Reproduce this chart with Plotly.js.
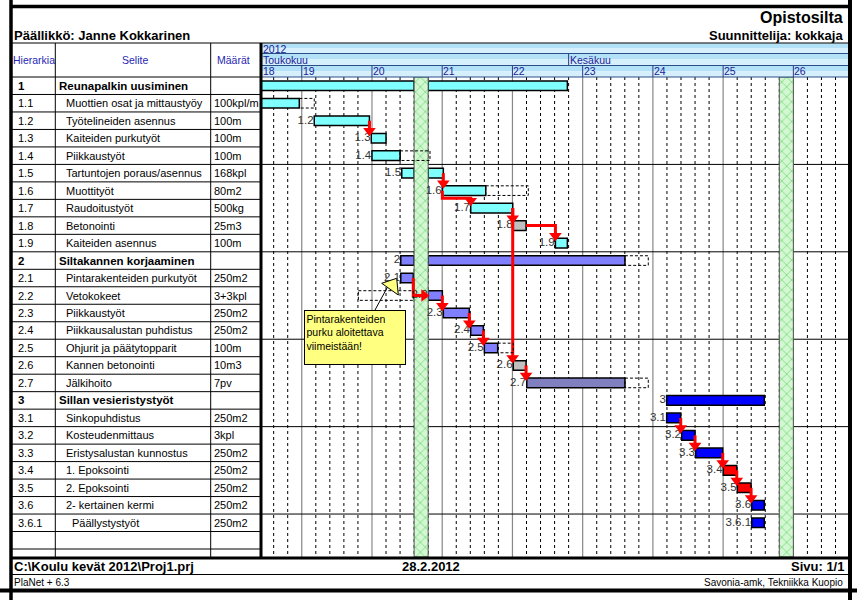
<!DOCTYPE html>
<html><head><meta charset="utf-8">
<script src="https://cdn.plot.ly/plotly-3.0.1.min.js"></script>
<style>html,body{margin:0;padding:0;background:#fff}#chart{width:857px;height:600px}</style>
</head><body><div id="chart"></div>
<script>
// ===== DATA =====
const projectTitle = 'Opistosilta';
const designer = 'Suunnittelija: kokkaja';
const manager = 'Päällikkö: Janne Kokkarinen';
const colHeaders = ['Hierarkia', 'Selite', 'Määrät'];
const footerFile = 'C:\\Koulu kevät 2012\\Proj1.prj';
const footerDate = '28.2.2012';
const footerPage = 'Sivu: 1/1';
const footerApp = 'PlaNet + 6.3';
const footerOrg = 'Savonia-amk, Tekniikka Kuopio';

const taskIds = ['1','1.1','1.2','1.3','1.4','1.5','1.6','1.7','1.8','1.9','2','2.1','2.2','2.3','2.4','2.5','2.6','2.7','3','3.1','3.2','3.3','3.4','3.5','3.6','3.6.1'];
const taskNames = ['Reunapalkin uusiminen','Muottien osat ja mittaustyöy','Työtelineiden asennus','Kaiteiden purkutyöt','Piikkaustyöt','Tartuntojen poraus/asennus','Muottityöt','Raudoitustyöt','Betonointi','Kaiteiden asennus','Siltakannen korjaaminen','Pintarakenteiden purkutyöt','Vetokokeet','Piikkaustyöt','Piikkausalustan puhdistus','Ohjurit ja päätytopparit','Kannen betonointi','Jälkihoito','Sillan vesieristystyöt','Sinkopuhdistus','Kosteudenmittaus','Eristysalustan kunnostus','1. Epoksointi','2. Epoksointi','2- kertainen kermi','Päällystystyöt'];
const taskQty = ['','100kpl/m','100m','100m','100m','168kpl','80m2','500kg','25m3','100m','','250m2','3+3kpl','250m2','250m2','100m','10m3','7pv','','250m2','3kpl','250m2','250m2','250m2','250m2','250m2'];
// working days counted from Monday of week 18 / 2012 (day 0)
const taskStart = [2.0,2.0,5.89,9.95,10.0,12.12,15.01,17.03,20.06,23.06,12.05,12.05,14.01,15.08,17.03,18.0,20.06,21.02,30.98,30.98,32.05,33.05,35.01,36.01,37.04,37.04];
const taskEnd   = [23.91,4.83,9.82,11.0,12.0,15.08,18.1,20.02,20.97,23.91,28.01,12.94,15.01,16.93,17.93,18.95,20.97,28.01,37.93,31.98,33.0,34.97,35.97,36.99,37.93,37.93];
const taskGroup = ['sum1','t1','t1','t1','t1','t1','t1','t1','conc','t1','sum2','t2','t2','t2','t2','t2','conc','cure','t3','t3','t3','t3','crit','crit','t3','t3'];

const floatTask = ['1.1','1.4','1.6','2','2.2','2.5','2.7'];
const floatFrom = [4.83,12.0,18.1,28.01,9.03,18.95,28.01];
const floatTo   = [5.89,14.13,21.13,29.67,12.94,20.06,29.67];

const depFrom = ['1.2','1.5','1.6','1.7','1.7','1.8','2.1','2.2','2.3','2.4','2.6','3.1','3.2','3.3','3.4','3.5'];
const depTo   = ['1.3','1.6','1.7','1.8','2.6','1.9','2.2','2.3','2.4','2.5','2.7','3.2','3.3','3.4','3.5','3.6'];
const depType = ['FS','FS','SS','FS','FS','FS','FS','FS','FS','FS','FS','FS','FS','FS','FS','FS'];

const holidayDays = [13, 39];
const yearLabel = '2012';
const weekNumbers = [18,19,20,21,22,23,24,25,26];
const monthNames = ['Toukokuu','Kesäkuu'];
const monthStartDay = [1, 24];
const noteText = 'Pintarakenteiden<br>purku aloitettava<br>viimeistään!';

// ===== STYLE / LAYOUT =====
const FONT = 'Liberation Sans, Arial, sans-serif';
const groupFill = {sum1:'#80FFFF', t1:'#80FFFF', conc:'#C0C0C0', sum2:'#8080FF', t2:'#8080FF', cure:'#8080C0', t3:'#0000FF', crit:'#FF0000'};
const dayMin = 2.17, dayMax = 43.89;
const L = 262, R = 848, T = 77, B = 557;
const rowPx = 472 / 27;
const yMax = -0.5 + (B - T) / rowPx;
const px = X => (X - L) / (R - L);
const py = Y => (B - Y) / (B - T);
const yRow = Y => (Y - T) / rowPx - 0.5;
const idx = id => taskIds.indexOf(id);

// split bars at holidays
function segments(a, b) {
  let segs = [[a, b]];
  holidayDays.forEach(h => {
    const out = [];
    segs.forEach(([s, e]) => {
      if (s < h + 1 && e > h) {
        if (h - s > 0.05) out.push([s, h]);
        if (e - (h + 1) > 0.05) out.push([h + 1, e]);
      } else out.push([s, e]);
    });
    segs = out;
  });
  return segs;
}

const traces = [];

// holidays
const hx = [], hy = [];
holidayDays.forEach(h => { hx.push(h, h + 1, h + 1, h, h, null); hy.push(-0.5, -0.5, yMax, yMax, -0.5, null); });
traces.push({type:'scatter', mode:'lines', x:hx, y:hy, fill:'toself', fillcolor:'#D2F7D2',
  fillpattern:{shape:'x', bgcolor:'#D2F7D2', fgcolor:'#86DE86', size:7, solidity:0.25},
  line:{color:'#555', width:1}, hoverinfo:'skip'});

// bars
const sy = [], sb = [], sl = [], sc = [];
taskIds.forEach((id, i) => {
  segments(taskStart[i], taskEnd[i]).forEach(([a, b]) => { sy.push(i); sb.push(a); sl.push(b - a); sc.push(groupFill[taskGroup[i]]); });
});
traces.push({type:'bar', orientation:'h', y:sy, x:sl, base:sb, width:0.55,
  marker:{color:sc, line:{color:'#000', width:1.5}}, hoverinfo:'skip'});

// bar labels
const lx = [], ly = [], lt = [];
taskIds.forEach((id, i) => { if (taskStart[i] > dayMin + 0.5) { lx.push(taskStart[i] - 0.05); ly.push(i); lt.push(id); } });
traces.push({type:'scatter', mode:'text', x:lx, y:ly, text:lt, textposition:'middle left',
  textfont:{family:FONT, size:11.5, color:'#333'}, hoverinfo:'skip'});

// dependency lines
const rx = [], ry = [], dX = [], dY = [], rX = [], rY = [];
const headOff = 0.42;
function inHoliday(a, b) { return holidayDays.some(h => h >= a - 0.15 && h + 1 <= b + 0.15); }
depFrom.forEach((f, k) => {
  const p = idx(f), s = idx(depTo[k]);
  const ss = taskStart[s];
  if (depType[k] === 'SS') {
    const x0 = taskStart[p], ym = p + 0.44;
    rx.push(x0, x0, ss, ss, null); ry.push(p, ym, ym, s - headOff, null);
    dX.push(ss); dY.push(s - headOff);
  } else {
    const pe = taskEnd[p];
    if (ss - pe < 0.2) {
      rx.push(pe, pe, null); ry.push(p, s - headOff, null);
      dX.push(pe); dY.push(s - headOff);
    } else if (inHoliday(pe, ss)) {
      rx.push(pe, pe, ss - 0.3, null); ry.push(p, s, s, null);
      rX.push(ss - 0.3); rY.push(s);
    } else {
      rx.push(pe, ss, ss, null); ry.push(p, p, s - headOff, null);
      dX.push(ss); dY.push(s - headOff);
    }
  }
});
traces.push({type:'scatter', mode:'lines', x:rx, y:ry, line:{color:'#FF0000', width:3}, hoverinfo:'skip'});
traces.push({type:'scatter', mode:'markers', x:dX, y:dY, marker:{symbol:'triangle-down', size:11, color:'#FF0000'}, hoverinfo:'skip'});
traces.push({type:'scatter', mode:'markers', x:rX, y:rY, marker:{symbol:'triangle-right', size:11, color:'#FF0000'}, hoverinfo:'skip'});

// ===== SHAPES =====
const S = [];
function pline(x0, y0, x1, y1, w, c, dash) {
  S.push({type:'line', xref:'paper', yref:'paper', x0:px(x0), y0:py(y0), x1:px(x1), y1:py(y1), line:{color:c || '#000', width:w || 1, dash:dash || 'solid'}});
}
function prect(x0, y0, x1, y1, fill) {
  S.push({type:'rect', xref:'paper', yref:'paper', x0:px(x0), y0:py(y0), x1:px(x1), y1:py(y1), line:{width:0}, fillcolor:fill, layer:'below'});
}
// grid (vertical day / week lines)
for (let d = Math.ceil(dayMin); d <= Math.floor(dayMax); d++) {
  if (d % 5 === 0) S.push({type:'line', xref:'x', yref:'y', x0:d, x1:d, y0:-0.5, y1:yMax, line:{color:'#888', width:1.2}, layer:'below'});
  else S.push({type:'line', xref:'x', yref:'y', x0:d, x1:d, y0:-0.5, y1:yRow(555), line:{color:'#000', width:1, dash:'3px,3px'}, layer:'below'});
}
// every 5 rows lines in gantt
for (let r = 4.5; r < taskIds.length; r += 5) S.push({type:'line', xref:'x', yref:'y', x0:dayMin, x1:dayMax, y0:r, y1:r, line:{color:'#000', width:1}, layer:'below'});
// float boxes
floatTask.forEach((id, k) => {
  const r = idx(id);
  S.push({type:'rect', xref:'x', yref:'y', x0:floatFrom[k], x1:floatTo[k], y0:r - 0.275, y1:r + 0.275, line:{color:'#000', width:1, dash:'3px,2px'}, fillcolor:'rgba(0,0,0,0)'});
});
// header bands
function band(y0, y1) {
  const m = (y0 + y1) / 2;
  prect(L, y0, R, m, '#B3E1F8');
  prect(L, m, R, y1, '#D5EFFC');
  pline(L, y1, R, y1, 1, '#2a4f86');
}
band(43.3, 53.5); band(53.5, 65.5); band(65.5, 77);
weekNumbers.forEach(w => {
  const d = (w - 18) * 5;
  if (d > dayMin) S.push({type:'line', xref:'x', yref:'paper', x0:d, x1:d, y0:py(65.5), y1:py(77), line:{color:'#2a3f86', width:1}});
});
monthStartDay.forEach(d => { if (d > dayMin) S.push({type:'line', xref:'x', yref:'paper', x0:d, x1:d, y0:py(53.5), y1:py(65.5), line:{color:'#2a3f86', width:1}}); });
// table rows
for (let r = 0; r <= taskIds.length; r++) S.push({type:'line', xref:'paper', yref:'y', x0:px(12), x1:px(260), y0:r + 0.5, y1:r + 0.5, line:{color:'#000', width:1}});
pline(12, 43, R, 43, 1);
pline(12, 77, 260, 77, 1);
pline(55.3, 43, 55.3, 557, 1);
pline(210.7, 43, 210.7, 557, 1);
pline(261, 43, 261, 557, 3);
// frame & footer
pline(10, 6.5, 851, 6.5, 3.5);
pline(11, 0, 11, 600, 3.5);
pline(850, 0, 850, 600, 4);
pline(0, 590.5, 857, 590.5, 4);
pline(10, 558, 851, 558, 3);
pline(12, 574.5, 848, 574.5, 1);
// note triangle + pointer
S.push({type:'line', xref:'paper', yref:'paper', x0:px(375), y0:py(310), x1:px(387), y1:py(288), line:{color:'#000', width:1}});
S.push({type:'path', xref:'paper', yref:'paper', path:`M ${px(381.7)},${py(283.3)} L ${px(396.7)},${py(278.3)} L ${px(398.3)},${py(295)} Z`, fillcolor:'#FFFF80', line:{color:'#000', width:1}});

// ===== ANNOTATIONS =====
const A = [];
function ptext(x, y, text, size, opts) {
  A.push(Object.assign({xref:'paper', yref:'paper', x:px(x), y:py(y), text:text, showarrow:false, xanchor:'left', yanchor:'middle',
    font:{family:FONT, size:size || 11, color:'#000'}}, opts || {}));
}
ptext(845, 17.5, '<b>' + projectTitle + '</b>', 16, {xanchor:'right'});
ptext(845, 35, '<b>' + designer + '</b>', 13, {xanchor:'right'});
ptext(12, 35, '<b>' + manager + '</b>', 13);
const hc = '#2626b4';
ptext(33.5, 60, colHeaders[0], 10.5, {xanchor:'center', font:{family:FONT, size:10.5, color:hc}});
ptext(135, 60, colHeaders[1], 10.5, {xanchor:'center', font:{family:FONT, size:10.5, color:hc}});
ptext(233, 60, colHeaders[2], 10.5, {xanchor:'center', font:{family:FONT, size:10.5, color:hc}});
const bc = '#1c1c96';
ptext(261, 48.5, yearLabel, 10.5, {font:{family:FONT, size:10.5, color:bc}});
monthNames.forEach((m, k) => {
  A.push({xref:'x', yref:'paper', x:Math.max(monthStartDay[k], dayMin), y:py(59.5), text:m, showarrow:false, xanchor:'left', yanchor:'middle', xshift:-1, font:{family:FONT, size:10.5, color:bc}});
});
weekNumbers.forEach(w => {
  A.push({xref:'x', yref:'paper', x:Math.max((w - 18) * 5, dayMin), y:py(71.3), text:String(w), showarrow:false, xanchor:'left', yanchor:'middle', xshift:-1, font:{family:FONT, size:10.5, color:bc}});
});
// table text
taskIds.forEach((id, i) => {
  const lvl = id.split('.').length - 1;
  const bold = lvl === 0;
  const nx = [56.5, 63.5, 70][lvl];
  A.push({xref:'paper', yref:'y', x:px(16), y:i, text:bold ? '<b>' + id + '</b>' : id, showarrow:false, xanchor:'left', yanchor:'middle', font:{family:FONT, size:bold ? 11.5 : 11, color:'#000'}});
  A.push({xref:'paper', yref:'y', x:px(nx), y:i, text:bold ? '<b>' + taskNames[i] + '</b>' : taskNames[i], showarrow:false, xanchor:'left', yanchor:'middle', font:{family:FONT, size:bold ? 11.5 : 11, color:'#000'}});
  if (taskQty[i]) A.push({xref:'paper', yref:'y', x:px(211.5), y:i, text:taskQty[i], showarrow:false, xanchor:'left', yanchor:'middle', font:{family:FONT, size:11, color:'#000'}});
});
// note box
A.push({xref:'paper', yref:'paper', x:px(303.5), y:py(310), xanchor:'left', yanchor:'top', text:noteText, showarrow:false,
  align:'left', valign:'top', width:97, height:50, bgcolor:'#FFFF80', bordercolor:'#000', borderwidth:1, borderpad:1.5,
  font:{family:FONT, size:10.5, color:'#000'}});
// footer
ptext(12, 566, '<b>' + footerFile + '</b>', 13);
ptext(431, 566, '<b>' + footerDate + '</b>', 13, {xanchor:'center'});
ptext(846, 566, '<b>' + footerPage + '</b>', 13, {xanchor:'right'});
ptext(12, 582.5, footerApp, 10);
ptext(845, 582.5, footerOrg, 10, {xanchor:'right'});

const layout = {
  width:857, height:600, margin:{l:L, r:857 - R, t:T, b:600 - B, pad:0},
  paper_bgcolor:'#fff', plot_bgcolor:'rgba(0,0,0,0)', showlegend:false, barmode:'overlay',
  font:{family:FONT},
  xaxis:{range:[dayMin, dayMax], showgrid:false, zeroline:false, showticklabels:false, ticks:'', showline:false, fixedrange:true},
  yaxis:{range:[yMax, -0.5], showgrid:false, zeroline:false, showticklabels:false, ticks:'', showline:false, fixedrange:true},
  shapes:S, annotations:A
};
Plotly.newPlot('chart', traces, layout, {staticPlot:true, displayModeBar:false});
</script>
</body></html>
